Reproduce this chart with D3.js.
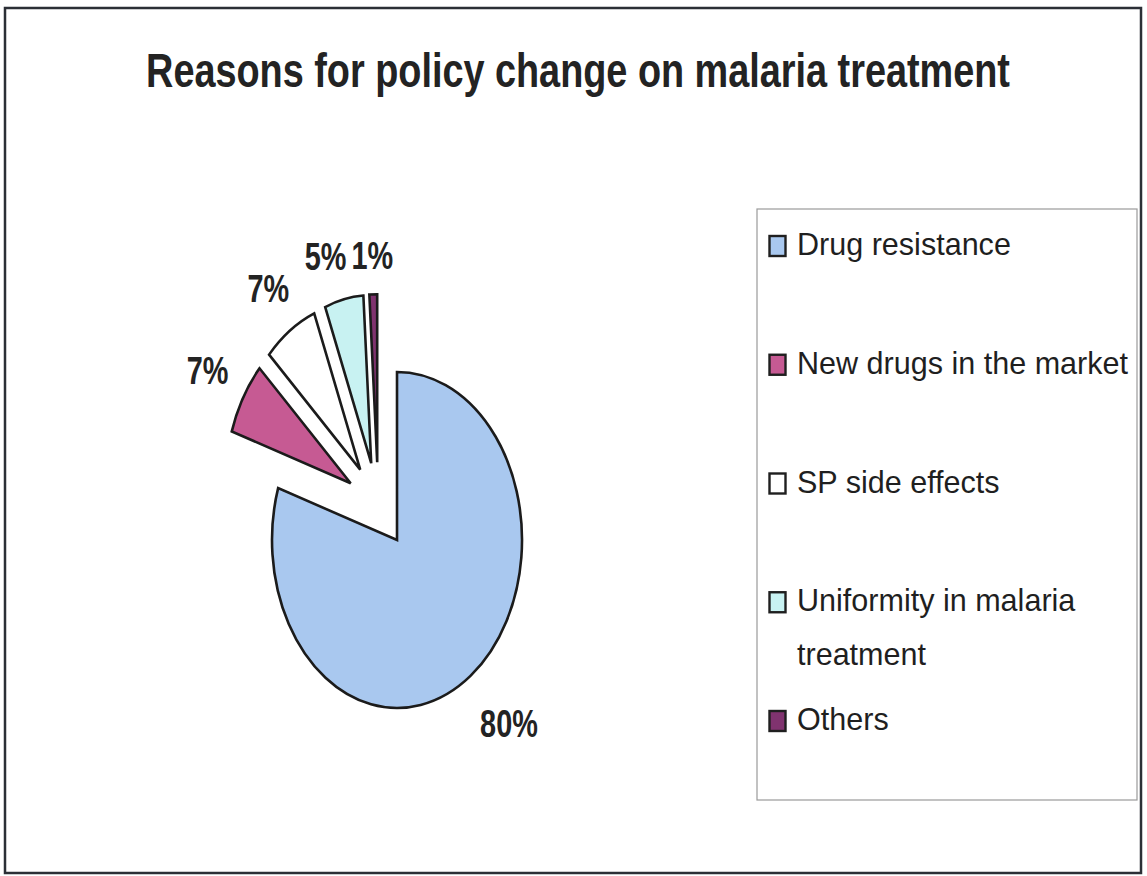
<!DOCTYPE html>
<html>
<head>
<meta charset="utf-8">
<script src="https://cdn.jsdelivr.net/npm/d3@7/dist/d3.min.js"></script>
<style>
  html, body { margin: 0; padding: 0; background: #fff; }
  svg { display: block; }
</style>
</head>
<body>
<svg id="chart" width="1147" height="876"></svg>
<script>
// Reasons given for the change of malaria treatment policy (share of respondents)
const categories = [
  "Drug resistance",
  "New drugs in the market",
  "SP side effects",
  "Uniformity in malaria treatment",
  "Others"
];
const values = [80, 7, 7, 5, 1];
const valueLabels = ["80%", "7%", "7%", "5%", "1%"];
const sliceColors = ["#a9c8ef", "#c65a93", "#ffffff", "#c8f2f2", "#80336f"];
const titleText = "Reasons for policy change on malaria treatment";

const svg = d3.select("#chart");

// outer frame
svg.append("rect")
  .attr("x", 5).attr("y", 8)
  .attr("width", 1136).attr("height", 865)
  .attr("fill", "#fff")
  .attr("stroke", "#2b2f36")
  .attr("stroke-width", 2.5);

// title (narrow bold face)
svg.append("text")
  .attr("transform", "translate(578,87) scale(0.772,1)")
  .attr("text-anchor", "middle")
  .attr("font-family", "'Liberation Sans', Arial, sans-serif")
  .attr("font-weight", "bold")
  .attr("font-size", 49)
  .attr("fill", "#232323")
  .text(titleText);

// ---- pie ----
const R = 125;          // radius before vertical stretch
const K = 1.344;        // vertical stretch of the plot area
const explode = 32;     // every slice pulled out along its mid angle
const cx = 378.2, cy = 505.2;

const pie = d3.pie().sort(null).value(d => d)
  .startAngle(0).endAngle(2 * Math.PI);
const arcs = pie(values);
const arc = d3.arc().innerRadius(0).outerRadius(R);

const pieG = svg.append("g")
  .attr("transform", `translate(${cx},${cy}) scale(1,${K})`);

pieG.selectAll("path")
  .data(arcs)
  .join("path")
  .attr("transform", d => {
    const m = (d.startAngle + d.endAngle) / 2;
    return `translate(${explode * Math.sin(m)},${-explode * Math.cos(m)})`;
  })
  .attr("d", arc)
  .attr("fill", (d, i) => sliceColors[i])
  .attr("stroke", "#1b1b1b")
  .attr("stroke-width", 2.6)
  .attr("stroke-linejoin", "miter")
  .attr("vector-effect", "non-scaling-stroke");

// value labels placed just outside each exploded slice
const labelSX = 0.74, labelFS = 39, capH = 0.716 * labelFS;
const gap = 18;
const placed = arcs.map((d, i) => {
  const m = (d.startAngle + d.endAngle) / 2;
  const t = svg.append("text")
    .attr("text-anchor", "middle")
    .attr("font-family", "'Liberation Sans', Arial, sans-serif")
    .attr("font-weight", "bold")
    .attr("font-size", labelFS)
    .attr("fill", "#232323")
    .text(valueLabels[i]);
  const w = t.node().getComputedTextLength() * labelSX;
  const h = capH / K;
  const r = R + explode + gap + Math.abs(Math.sin(m)) * w / 2 + Math.abs(Math.cos(m)) * h / 2;
  // the large slice's label sits a little further right of its bisector
  const nudge = i === 0 ? 13 : 0;
  return { t, w, x: cx + r * Math.sin(m) + nudge, y: cy - r * Math.cos(m) * K + capH / 2 };
});

// push neighbouring labels apart (walk from the last slice backwards)
for (let i = placed.length - 2; i >= 1; i--) {
  const a = placed[i], b = placed[i + 1];
  const vOverlap = Math.abs(a.y - b.y) < capH;
  const minDx = (a.w + b.w) / 2 + 5;
  if (vOverlap && b.x - a.x < minDx) a.x = b.x - minDx;
}
placed.forEach(p => p.t.attr("transform", `translate(${p.x},${p.y}) scale(${labelSX},1)`));

// ---- legend ----
const legX = 757, legY = 209, legW = 380, legH = 591;
svg.append("rect")
  .attr("x", legX).attr("y", legY)
  .attr("width", legW).attr("height", legH)
  .attr("fill", "#fff")
  .attr("stroke", "#9a9a9a")
  .attr("stroke-width", 1.2);

const legFS = 31.5, legSX = 0.97;
const rowStep = 118.75, firstBase = 255, lineH = 54, maxTextW = 340;
const leg = svg.append("g");

categories.forEach((c, i) => {
  const base = firstBase + i * rowStep;
  leg.append("rect")
    .attr("x", 769.5).attr("y", base - 19)
    .attr("width", 16).attr("height", 20)
    .attr("fill", sliceColors[i])
    .attr("stroke", "#1f1f1f")
    .attr("stroke-width", 2.4);

  // wrap long names to the legend width
  const words = c.split(" ");
  const lines = [];
  let cur = "";
  const probe = leg.append("text")
    .attr("font-family", "'Liberation Sans', Arial, sans-serif")
    .attr("font-size", legFS);
  words.forEach(wd => {
    const test = cur ? cur + " " + wd : wd;
    probe.text(test);
    if (probe.node().getComputedTextLength() * legSX > maxTextW && cur) {
      lines.push(cur);
      cur = wd;
    } else {
      cur = test;
    }
  });
  lines.push(cur);
  probe.remove();

  lines.forEach((ln, j) => {
    leg.append("text")
      .attr("transform", `translate(797,${base + j * lineH}) scale(${legSX},1)`)
      .attr("font-family", "'Liberation Sans', Arial, sans-serif")
      .attr("font-size", legFS)
      .attr("fill", "#1f1f1f")
      .text(ln);
  });
});
</script>
</body>
</html>
